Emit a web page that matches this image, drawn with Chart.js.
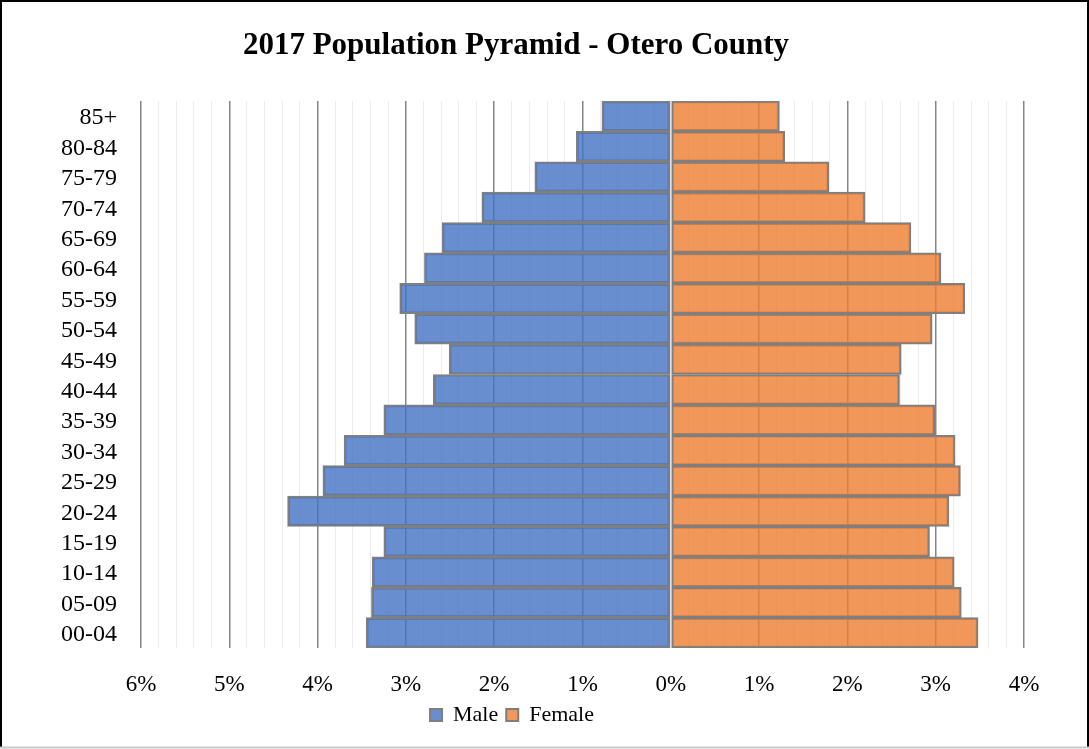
<!DOCTYPE html>
<html>
<head>
<meta charset="utf-8">
<script src="https://cdn.jsdelivr.net/npm/chart.js@4/dist/chart.umd.min.js"></script>
<style>
  html, body { margin: 0; padding: 0; background: #fff; }
  #wrap { width: 1089px; height: 749px; position: relative; }
</style>
</head>
<body>
<div id="wrap"><canvas id="c" width="1089" height="749"></canvas></div>
<script>
const TITLE = "2017 Population Pyramid - Otero County";
const AGE_GROUPS = ["85+", "80-84", "75-79", "70-74", "65-69", "60-64", "55-59", "50-54", "45-49",
                    "40-44", "35-39", "30-34", "25-29", "20-24", "15-19", "10-14", "05-09", "00-04"];
// Percent of total population (male shown to the left as negatives)
const MALE_PCT = [0.78, 1.07, 1.54, 2.14, 2.59, 2.79, 3.07, 2.90, 2.51,
                  2.69, 3.25, 3.70, 3.94, 4.34, 3.25, 3.38, 3.39, 3.45];
const FEMALE_PCT = [1.23, 1.29, 1.79, 2.20, 2.72, 3.06, 3.33, 2.96, 2.61,
                    2.59, 2.99, 3.22, 3.28, 3.15, 2.93, 3.21, 3.29, 3.48];
const X_MIN = -6, X_MAX = 4, X_MINOR_STEP = 0.2;
const SERIES_NAMES = ["Male", "Female"];

const FONT = "'Liberation Serif', 'DejaVu Serif', serif";
const isInt = v => Math.abs(v - Math.round(v)) < 1e-6;

const framePlugin = {
  id: 'frame',
  beforeDraw(chart) {
    const ctx = chart.ctx;
    ctx.save();
    ctx.fillStyle = '#ffffff';
    ctx.fillRect(0, 0, chart.width, chart.height);
    ctx.restore();
  },
  afterDatasetsDraw(chart) {
    const ctx = chart.ctx;
    const x = chart.scales.x.getPixelForValue(0);
    const a = chart.chartArea;
    ctx.save();
    ctx.strokeStyle = '#e4e4e4';
    ctx.lineWidth = 1.5;
    ctx.beginPath();
    ctx.moveTo(x, a.top);
    ctx.lineTo(x, a.bottom);
    ctx.stroke();
    ctx.restore();
  },
  afterDraw(chart) {
    const ctx = chart.ctx;
    ctx.save();
    // title
    ctx.fillStyle = '#000';
    ctx.font = "bold 31px " + FONT;
    ctx.textAlign = 'center';
    ctx.textBaseline = 'middle';
    ctx.fillText(TITLE, 516, 46);
    // outer frame
    ctx.strokeStyle = '#000';
    ctx.lineWidth = 2;
    ctx.beginPath();
    ctx.moveTo(1, 748); ctx.lineTo(1, 1); ctx.lineTo(1088, 1); ctx.lineTo(1088, 748);
    ctx.stroke();
    ctx.strokeStyle = '#c8c8c8';
    ctx.beginPath();
    ctx.moveTo(0, 747.5); ctx.lineTo(1089, 747.5);
    ctx.stroke();
    ctx.restore();
  }
};

new Chart(document.getElementById('c'), {
  type: 'bar',
  data: {
    labels: AGE_GROUPS,
    datasets: [
      {
        label: SERIES_NAMES[0],
        data: MALE_PCT.map(v => -v),
        backgroundColor: 'rgba(68,114,196,0.8)',
        borderColor: '#7f7f7f',
        borderWidth: 2,
        borderSkipped: false
      },
      {
        label: SERIES_NAMES[1],
        data: FEMALE_PCT,
        backgroundColor: 'rgba(237,125,49,0.8)',
        borderColor: '#7f7f7f',
        borderWidth: 2,
        borderSkipped: false
      }
    ]
  },
  options: {
    indexAxis: 'y',
    responsive: false,
    animation: false,
    devicePixelRatio: 1,
    layout: { padding: { top: 101, right: 65, bottom: 13, left: 0 } },
    datasets: { bar: { barPercentage: 1, categoryPercentage: 1 } },
    scales: {
      x: {
        stacked: true,
        min: X_MIN, max: X_MAX,
        afterFit(scale) { scale.height = 48; },
        ticks: {
          stepSize: X_MINOR_STEP,
          autoSkip: false,
          maxRotation: 0,
          padding: 23,
          color: '#000',
          font: { family: FONT, size: 23 },
          callback: v => isInt(v) ? Math.abs(Math.round(v)) + '%' : ''
        },
        grid: {
          drawTicks: false,
          color: c => isInt(c.tick.value) ? '#858585' : '#ececec',
          lineWidth: c => isInt(c.tick.value) ? 1.5 : 1
        },
        border: { display: false }
      },
      y: {
        stacked: true,
        afterFit(scale) { scale.width = 141; },
        ticks: {
          autoSkip: false,
          padding: 24,
          labelOffset: 2,
          color: '#000',
          font: { family: FONT, size: 24 }
        },
        grid: { display: false, drawTicks: false },
        border: { display: false }
      }
    },
    plugins: {
      title: { display: false },
      tooltip: { enabled: false },
      legend: {
        position: 'bottom',
        labels: {
          boxWidth: 12,
          boxHeight: 12,
          padding: 8,
          color: '#000',
          font: { family: FONT, size: 22 }
        }
      }
    }
  },
  plugins: [framePlugin]
});
</script>
</body>
</html>
